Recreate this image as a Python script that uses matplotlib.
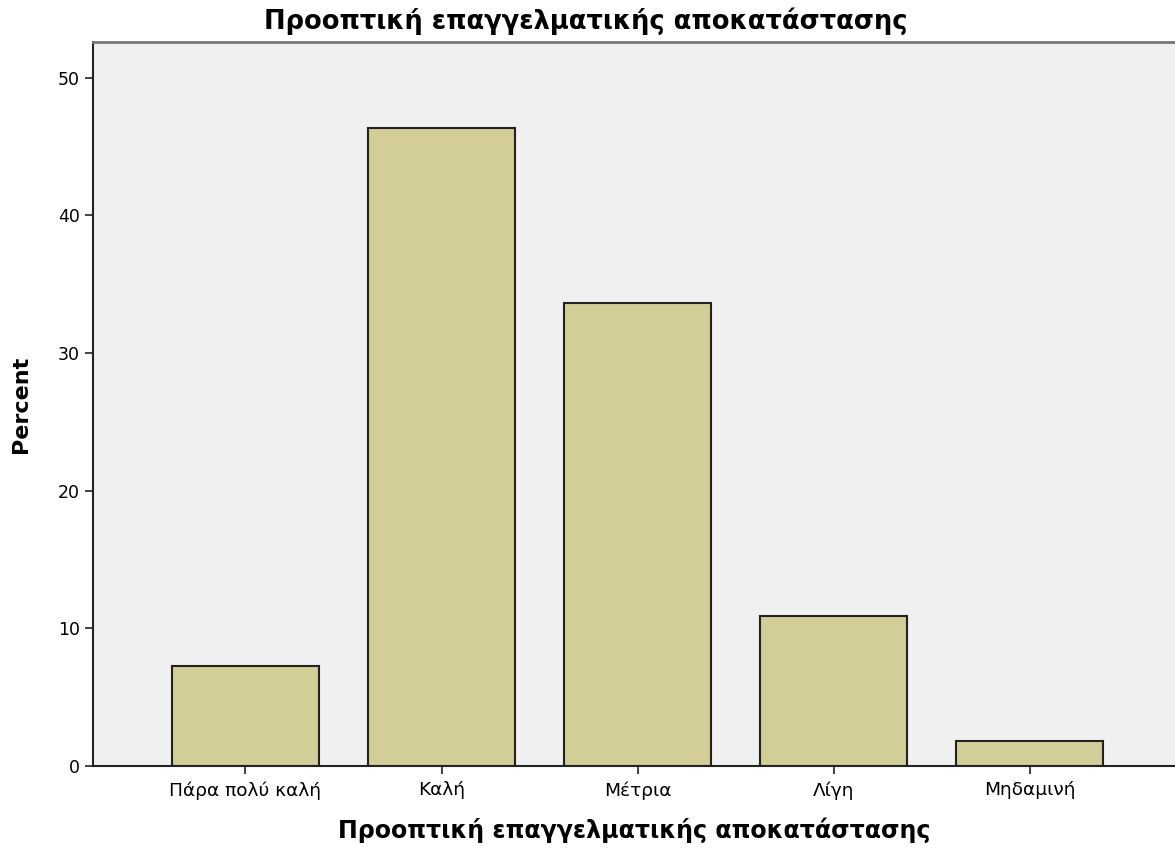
import numpy as np
import matplotlib.pyplot as plt

plt.rcParams['font.family'] = ['DejaVu Sans']

categories = ['Πάρα πολύ καλή', 'Καλή', 'Μέτρια', 'Λίγη', 'Μηδαμινή']
percent = [7.27, 46.36, 33.64, 10.91, 1.82]
title = 'Προοπτική επαγγελματικής αποκατάστασης'

fig = plt.figure(figsize=(11.75, 8.5), dpi=100)
ax = fig.add_axes([93/1175, 84/850, 1 - 93/1175, (766-42)/850])
ax.set_facecolor('#f0f0f0')

x = np.arange(len(categories))
ax.bar(x, percent, width=0.75, color='#d3ce97', edgecolor='#222222', linewidth=1.5, zorder=2)

ax.set_xlim(-0.778, len(categories) - 1 + 0.742)
ax.set_ylim(0, 52.6)
ax.set_yticks([0, 10, 20, 30, 40, 50])
ax.set_xticks(x)
ax.set_xticklabels(categories)
ax.tick_params(axis='both', direction='out', length=6, width=1.2, colors='#222222', labelcolor='black')
ax.tick_params(axis='y', labelsize=12.5)
ax.tick_params(axis='x', labelsize=13.3, pad=5)

for s in ['left', 'bottom']:
    ax.spines[s].set_color('#222222')
    ax.spines[s].set_linewidth(1.5)
ax.spines['top'].set_color('#777777')
ax.spines['top'].set_linewidth(2)
ax.spines['right'].set_visible(False)

ax.set_title(title, fontsize=18.5, fontweight='bold', pad=9, x=(586-93)/(1175-93))
ax.set_xlabel(title, fontsize=17.1, fontweight='bold', labelpad=13)
ax.set_ylabel('Percent', fontsize=16, fontweight='bold', labelpad=19)

plt.savefig('out.png', dpi=100)
